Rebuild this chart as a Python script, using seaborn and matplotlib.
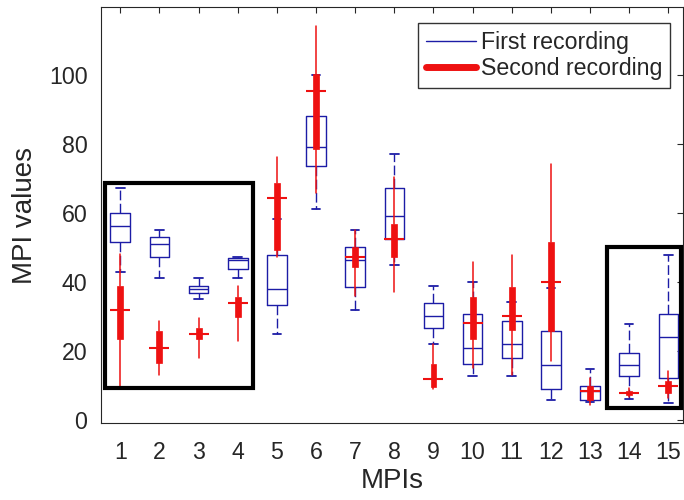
import matplotlib
matplotlib.use("Agg")
import matplotlib.pyplot as plt
import matplotlib.patches as mpatches
from matplotlib.lines import Line2D
import seaborn as sns

# ---------------- data ----------------
mpis = list(range(1, 16))
tick_labels = [str(m) for m in mpis]

# First recording (blue): whisker low, Q1, median, Q3, whisker high
first_whislo = [42.9, 41.0, 34.9, 41.0, 24.7, 60.9, 31.7, 44.9, 21.8, 12.5, 12.5, 5.7, 5.0, 6.0, 4.8]
first_q1 = [51.4, 47.0, 36.6, 43.6, 33.1, 73.5, 38.5, 52.4, 26.6, 16.1, 17.9, 8.9, 5.7, 12.5, 11.9]
first_med = [56.0, 50.9, 37.8, 46.3, 37.8, 79.1, 46.1, 58.9, 30.0, 20.8, 22.0, 15.7, 8.2, 15.7, 23.9]
first_q3 = [59.9, 53.0, 38.8, 46.7, 47.8, 88.0, 50.0, 67.0, 33.9, 30.5, 28.6, 25.7, 9.6, 19.3, 30.5]
first_whishi = [67.0, 54.8, 41.0, 47.0, 58.0, 100.0, 54.8, 76.9, 38.8, 39.9, 34.0, 38.1, 14.7, 27.8, 47.8]

# Second recording (red)
second_whislo = [9.6, 12.8, 17.7, 22.7, 47.0, 65.7, 35.9, 37.0, 8.7, 15.0, 13.0, 16.9, 4.1, 6.5, 6.2]
second_q1 = [23.2, 16.4, 23.2, 29.7, 49.2, 78.3, 44.1, 47.2, 9.3, 23.2, 26.0, 25.7, 5.7, 7.1, 7.7]
second_med = [31.7, 20.8, 24.7, 33.9, 64.2, 95.1, 47.0, 52.4, 11.7, 28.0, 30.0, 39.9, 8.2, 7.7, 9.6]
second_q3 = [38.8, 25.7, 26.4, 35.4, 68.6, 100.3, 50.1, 56.6, 16.1, 35.4, 38.5, 51.4, 9.8, 8.3, 11.1]
second_whishi = [48.0, 28.6, 29.5, 38.6, 76.2, 114.1, 54.8, 70.4, 22.0, 45.6, 47.8, 74.0, 12.0, 9.0, 14.2]

series_names = ["First recording", "Second recording"]
y_ticks = [0, 20, 40, 60, 80, 100]

# ---------------- style ----------------
BLUE = "#1c1ca6"
RED = "#ee1111"
TXT = "#262626"

sns.set_theme(style="white")
plt.rcParams["font.family"] = ["Liberation Sans", "DejaVu Sans"]

fig = plt.figure(figsize=(6.84, 5.0), dpi=100)
ax = fig.add_axes([101.3 / 684, 1 - 423.3 / 500, (683 - 101.3) / 684, (423.3 - 7.3) / 500])


def stats(lo, q1, med, q3, hi):
    return [dict(whislo=a, q1=b, med=c, q3=d, whishi=e, fliers=[])
            for a, b, c, d, e in zip(lo, q1, med, q3, hi)]


first_stats = stats(first_whislo, first_q1, first_med, first_q3, first_whishi)
second_stats = stats(second_whislo, second_q1, second_med, second_q3, second_whishi)

ax.bxp(first_stats, positions=mpis, widths=0.5, capwidths=0.22, showfliers=False,
       boxprops=dict(color=BLUE, linewidth=1.0),
       whiskerprops=dict(color=BLUE, linewidth=1.0, linestyle=(0, (7, 2.5))),
       capprops=dict(color=BLUE, linewidth=1.3),
       medianprops=dict(color=BLUE, linewidth=1.0),
       manage_ticks=False, zorder=2)

ax.bxp(second_stats, positions=mpis, widths=0.15, showfliers=False, showcaps=False,
       patch_artist=True,
       boxprops=dict(facecolor=RED, edgecolor=RED, linewidth=0.5),
       whiskerprops=dict(color=RED, linewidth=1.1),
       medianprops=dict(linewidth=0),
       manage_ticks=False, zorder=4)

sns.scatterplot(x=mpis, y=second_med, marker="_", s=210, color=RED,
                linewidth=1.5, ax=ax, zorder=5, legend=False)

# highlight rectangles
highlight_regions = [(0.61, 9.0, 4.40, 68.6), (13.44, 3.2, 15.33, 50.1)]
for x0, y0, x1, y1 in highlight_regions:
    ax.add_patch(mpatches.Rectangle((x0, y0), x1 - x0, y1 - y0, fill=False,
                                    edgecolor="black", linewidth=3.0, zorder=6,
                                    clip_on=False))

ax.set_xlim(0.515, 15.375)
ax.set_ylim(-1.1, 119.5)
ax.set_xticks(mpis)
ax.set_xticklabels(tick_labels)
ax.set_yticks(y_ticks)
ax.tick_params(direction="in", length=4, width=0.8, colors=TXT, top=True, right=True,
               labelsize=16.7)
ax.tick_params(axis="x", labeltop=False, pad=12.5)
ax.tick_params(axis="y", labelright=False, pad=10)
for s in ax.spines.values():
    s.set_color(TXT)
    s.set_linewidth(0.8)
    s.set_visible(True)

ax.set_xlabel("MPIs", fontsize=20, color=TXT, labelpad=3)
ax.set_ylabel("MPI values", fontsize=20, color=TXT, labelpad=8)

handles = [Line2D([], [], color=BLUE, linewidth=1.0),
           Line2D([], [], color=RED, linewidth=5.0)]
leg = ax.legend(handles, series_names, loc="upper right", bbox_to_anchor=(0.978, 0.962),
                borderaxespad=0, fontsize=16.7, frameon=True, fancybox=False,
                edgecolor="black", handlelength=2.15, handletextpad=0.2,
                borderpad=0.35, labelspacing=0.12)
leg.get_frame().set_linewidth(1.0)
leg.set_zorder(10)

fig.savefig("out.png", dpi=100)
